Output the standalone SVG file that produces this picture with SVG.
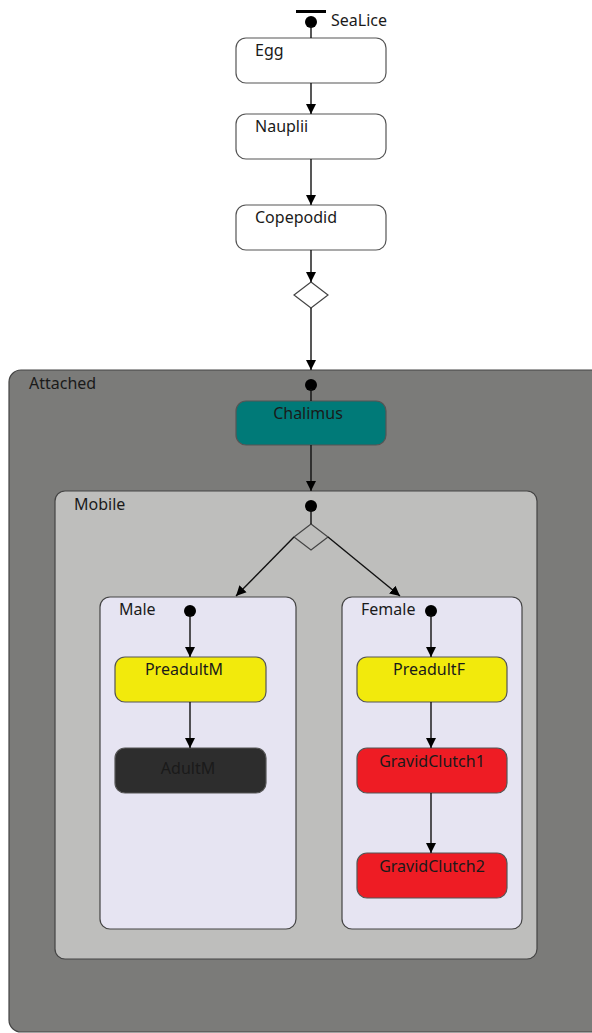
<svg xmlns="http://www.w3.org/2000/svg" width="592" height="1033" viewBox="0 0 592 1033">
  <defs>
    <marker id="arrow" viewBox="0 0 10 16" refX="10" refY="8" markerWidth="10" markerHeight="16" markerUnits="userSpaceOnUse" orient="auto">
      <path d="M0,3 L10,8 L0,13 Z" fill="#000"/>
    </marker>
    <style>
      text { font-family: "Noto Sans", "Open Sans", sans-serif; font-size: 16px; fill: #1a1a1a; }
      .state { stroke: #555; stroke-width: 1.2; }
      .plain { fill: #fff; }
      .region { stroke: #444; stroke-width: 1.2; }
      .conn { stroke: #111; stroke-width: 1.4; fill: none; marker-end: url(#arrow); }
      .link { stroke: #111; stroke-width: 1.4; fill: none; }
      .dot { fill: #000; }
      .choice { fill: none; stroke: #444; stroke-width: 1.2; }
      .mid { text-anchor: middle; }
    </style>
  </defs>

  <rect width="592" height="1033" fill="#fff"/>

  <!-- composite regions -->
  <g id="Attached">
    <rect class="region" x="9" y="370" width="600" height="662" rx="12" fill="#7b7b79"/>
    <text x="29" y="389">Attached</text>
  </g>
  <g id="Mobile">
    <rect class="region" x="55" y="491" width="482" height="468" rx="10" fill="#bebebc"/>
    <text x="74" y="510">Mobile</text>
  </g>
  <g id="Male">
    <rect class="region" x="100" y="597" width="196" height="332" rx="10" fill="#e6e4f2"/>
    <text x="119" y="615">Male</text>
  </g>
  <g id="Female">
    <rect class="region" x="342" y="597" width="180" height="332" rx="10" fill="#e6e4f2"/>
    <text x="361" y="615">Female</text>
  </g>

  <!-- initial pseudo-states and choice points -->
  <g id="SeaLice">
    <rect x="296" y="10" width="30" height="3" fill="#000"/>
    <circle class="dot" cx="311" cy="22" r="6"/>
    <text x="331" y="26">SeaLice</text>
  </g>
  <g id="choiceTop">
    <polygon class="choice" points="311,282 328,295 311,308 294,295"/>
  </g>
  <g id="initAttached"><circle class="dot" cx="311" cy="385" r="6"/></g>
  <g id="initMobile"><circle class="dot" cx="311" cy="506" r="6"/></g>
  <g id="choiceMobile">
    <polygon class="choice" points="311,524 328,537 311,550 294,537"/>
  </g>
  <g id="initMale"><circle class="dot" cx="190" cy="611" r="6"/></g>
  <g id="initFemale"><circle class="dot" cx="431" cy="611" r="6"/></g>

  <!-- simple states -->
  <g id="Egg">
    <rect class="state plain" x="236" y="38" width="150" height="45" rx="10"/>
    <text x="255" y="56">Egg</text>
  </g>
  <g id="Nauplii">
    <rect class="state plain" x="236" y="114" width="150" height="45" rx="10"/>
    <text x="255" y="132">Nauplii</text>
  </g>
  <g id="Copepodid">
    <rect class="state plain" x="236" y="205" width="150" height="45" rx="10"/>
    <text x="255" y="223">Copepodid</text>
  </g>
  <g id="Chalimus">
    <rect class="state" x="236" y="401" width="150" height="44" rx="10" fill="#007a78"/>
    <text class="mid" x="308" y="419">Chalimus</text>
  </g>
  <g id="PreadultM">
    <rect class="state" x="115" y="657" width="151" height="45" rx="10" fill="#f2ea0c"/>
    <text class="mid" x="184" y="675">PreadultM</text>
  </g>
  <g id="AdultM">
    <rect class="state" x="115" y="748" width="151" height="45" rx="10" fill="#2d2d2d"/>
    <text class="mid" x="188" y="774">AdultM</text>
  </g>
  <g id="PreadultF">
    <rect class="state" x="357" y="657" width="150" height="45" rx="10" fill="#f2ea0c"/>
    <text class="mid" x="429" y="675">PreadultF</text>
  </g>
  <g id="GravidClutch1">
    <rect class="state" x="357" y="748" width="150" height="45" rx="10" fill="#ee1c24"/>
    <text class="mid" x="432" y="767">GravidClutch1</text>
  </g>
  <g id="GravidClutch2">
    <rect class="state" x="357" y="853" width="150" height="45" rx="10" fill="#ee1c24"/>
    <text class="mid" x="432" y="872">GravidClutch2</text>
  </g>

  <!-- transitions -->
  <g id="connectors">
    <line class="link" x1="311" y1="26" x2="311" y2="38"/>
    <line class="conn" x1="311" y1="83" x2="311" y2="114"/>
    <line class="conn" x1="311" y1="159" x2="311" y2="205"/>
    <line class="conn" x1="311" y1="250" x2="311" y2="282"/>
    <line class="conn" x1="311" y1="308" x2="311" y2="370"/>
    <line class="link" x1="311" y1="389" x2="311" y2="401"/>
    <line class="conn" x1="311" y1="445" x2="311" y2="491"/>
    <line class="link" x1="311" y1="510" x2="311" y2="524"/>
    <line class="conn" x1="294" y1="537" x2="236" y2="596"/>
    <line class="conn" x1="328" y1="537" x2="400" y2="596"/>
    <line class="conn" x1="190" y1="615" x2="190" y2="657"/>
    <line class="conn" x1="190" y1="702" x2="190" y2="748"/>
    <line class="conn" x1="431" y1="615" x2="431" y2="657"/>
    <line class="conn" x1="431" y1="702" x2="431" y2="748"/>
    <line class="conn" x1="431" y1="793" x2="431" y2="853"/>
  </g>
</svg>
